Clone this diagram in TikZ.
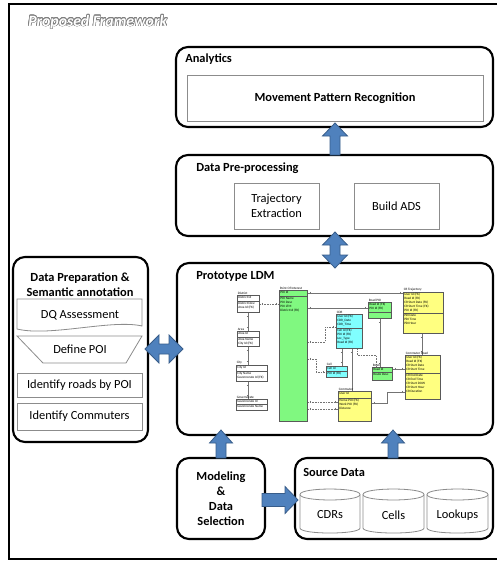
\documentclass[tikz,border=0pt]{standalone}
\usepackage{fontspec}
\setmainfont{Carlito}
\usepackage{contour}
\contourlength{0.4pt}
\usetikzlibrary{fit}
\definecolor{ablue}{HTML}{4F81BD}
\definecolor{aline}{HTML}{385D8A}
\definecolor{ergreen}{HTML}{80F880}
\definecolor{ercyan}{HTML}{80FFFF}
\definecolor{eryellow}{HTML}{FFFF80}
\definecolor{boxgray}{HTML}{8C8C8C}
\tikzset{
 group/.style={draw=black, line width=1.6pt, rounded corners=9pt, inner sep=0pt},
 innerbox/.style={draw=boxgray, line width=0.6pt, inner sep=0pt},
 ttl/.style={font=\fontsize{9.3}{11.25}\selectfont\bfseries, inner sep=0pt, align=center},
 lbl/.style={font=\fontsize{9.3}{11}\selectfont, inner sep=0pt, align=center},
 barrow/.style={fill=ablue, draw=aline, line width=0.6pt},
 ertext/.style={font=\fontsize{2.5}{3}\selectfont, inner sep=0pt, align=left},
 ertitle/.style={font=\fontsize{2.5}{3}\selectfont, inner sep=0.4pt},
 erline/.style={draw=black!55, line width=0.3pt},
 erdash/.style={erline, dash pattern=on 1.2pt off 0.8pt},
}
% ER table: x1,y1,x2,ysep,y2,colour,title,top fields,bottom fields
\newcommand\ertab[9]{%
 \fill[black!35] (#1+1.2,#2+1.2) rectangle (#3+1.2,#5+1.2);
 \filldraw[fill=#6, draw=black!65, line width=0.3pt] (#1,#2) rectangle (#3,#5);
 \draw[black!65, line width=0.3pt] (#1,#4) -- (#3,#4);
 \node[ertitle, anchor=south west] at (#1,#2) {#7};
 \node[ertext, anchor=north west] at (#1+1,#2+0.8) {#8};
 \node[ertext, anchor=north west] at (#1+1,#4+0.8) {#9};
}
% cylinder: x1,x2,ytop,ybottom,label,name
\newcommand\dbcyl[6]{%
 \draw[boxgray, line width=0.6pt, fill=white]
   (#1,#3+5.5) .. controls (#1,#3-1.8) and (#2,#3-1.8) .. (#2,#3+5.5)
   -- (#2,#4-5) .. controls (#2,#4+1.7) and (#1,#4+1.7) .. (#1,#4-5) -- cycle;
 \draw[boxgray, line width=0.6pt] (#1,#3+5.5) .. controls (#1,#3+12.8) and (#2,#3+12.8) .. (#2,#3+5.5);
 \node[lbl] (#6) at ({(#1+#2)/2},#4-18) {#5};
}
\begin{document}
\begin{tikzpicture}[x=0.75pt,y=-0.75pt]
\useasboundingbox (0,0) rectangle (497,561);
\fill[white] (0,0) rectangle (497,561);
% outer frame (right side outside the picture)
\draw[black, line width=1.4pt] (497,4) -- (9,4) -- (9,559) -- (497,559);
\node[anchor=west, inner sep=0pt, font=\fontsize{11.8}{13}\selectfont\bfseries\itshape] (frametitle) at (28,22)
  {\contour{black!50}{\textcolor{white}{Proposed Framework}}};

% ---- Analytics
\node[group, fit={(176,47) (493,127)}] (analytics) {};
\node[ttl, anchor=west] (antitle) at (185,59) {Analytics};
\node[innerbox, fit={(187,75) (483,121)}] (mprbox) {};
\node[ttl] (mpr) at (mprbox.center) {Movement Pattern Recognition};

% ---- Data pre-processing
\node[group, fit={(176,155) (493,236)}] (prep) {};
\node[ttl, anchor=west] (preptitle) at (196,168) {Data Pre-processing};
\node[innerbox, fit={(234,183) (319,229)}] (trajbox) {};
\node[lbl] (traj) at (trajbox.center) {Trajectory\\Extraction};
\node[innerbox, fit={(354,183) (439,229)}] (adsbox) {};
\node[lbl] (ads) at (adsbox.center) {Build ADS};

% ---- Prototype LDM
\node[group, fit={(177,263) (493,435)}] (ldm) {};
\node[ttl, anchor=west] (ldmtitle) at (196,276) {Prototype LDM};

% ---- Data preparation
\node[group, fit={(13,257) (148,442)}] (dprep) {};
\node[ttl] (dpreptitle) at (80,285) {Data Preparation \&\\Semantic annotation};
\draw[boxgray, line width=0.6pt] (17,299) -- (142,299) -- (142,326)
   .. controls (112,319) and (50,337) .. (17,329) -- cycle;
\node[lbl] (dq) at (80,315) {DQ Assessment};
\draw[boxgray, line width=0.6pt] (17,336) -- (142,336) -- (126,363) -- (43,363) -- cycle;
\node[lbl] (poi) at (80,349) {Define POI};
\node[innerbox, fit={(17,373) (142,397)}] (roadsbox) {};
\node[lbl] (roads) at (roadsbox.center) {Identify roads by POI};
\node[innerbox, fit={(17,403) (142,430)}] (commbox) {};
\node[lbl] (comm) at (commbox.center) {Identify Commuters};

% ---- Modeling
\node[group, fit={(177,458) (265,539)}] (model) {};
\node[ttl] (modeltxt) at (model.center) {Modeling\\\&\\Data\\Selection};

% ---- Source data
\node[group, fit={(295,458) (493,539)}] (source) {};
\node[ttl, anchor=west] (sourcetitle) at (303,472) {Source Data};
\dbcyl{300}{360}{489}{533}{CDRs}{cdrs}
\dbcyl{363}{424}{489}{533}{Cells}{cells}
\dbcyl{427}{488}{489}{533}{Lookups}{lookups}

% ---- block arrows
\filldraw[barrow] (330,155) -- (330,136) -- (322.5,136) -- (335,123) -- (347.5,136) -- (340,136) -- (340,155) -- cycle;
\filldraw[barrow] (335,232) -- (347.5,245) -- (340,245) -- (340,255) -- (347.5,255) -- (335,268)
   -- (322.5,255) -- (330,255) -- (330,245) -- (322.5,245) -- cycle;
\filldraw[barrow] (145,349) -- (159,335) -- (159,344) -- (169,344) -- (169,335) -- (183,349)
   -- (169,363) -- (169,354) -- (159,354) -- (159,363) -- cycle;
\filldraw[barrow] (216,458) -- (216,443) -- (209.5,443) -- (221,430) -- (232.5,443) -- (226,443) -- (226,458) -- cycle;
\filldraw[barrow] (388,458) -- (388,443) -- (381.5,443) -- (393,430) -- (404.5,443) -- (398,443) -- (398,458) -- cycle;
\filldraw[barrow] (262,493.5) -- (285,493.5) -- (285,486.5) -- (298,500) -- (285,513.5) -- (285,506.5) -- (262,506.5) -- cycle;

% ---- ER diagram (logical data model)
% connectors
\draw[erdash] (259,304) -- (279,304);
\draw[erline] (248,312) -- (248,331);
\draw[erline] (248,346) -- (248,365);
\draw[erline] (248,381) -- (248,399);
\draw[erline] (307,293) -- (403,293);
\draw[erline] (307,308) -- (368,308);
\draw[erdash] (307,342) -- (325,342) -- (325,327) -- (336,327);
\draw[erdash] (307,359) -- (316,359) -- (316,372) -- (326,372);
\draw[erdash] (307,402) -- (338,402);
\draw[erdash] (307,409) -- (338,409);
\draw[erline] (342,348) -- (342,366);
\draw[erline] (352,348) -- (352,391);
\draw[erdash] (357,348) -- (357,355) -- (376,355) -- (376,367);
\draw[erline] (380,318) -- (380,367);
\draw[erline] (392,369) -- (405,369);
\draw[erline] (422,333) -- (422,355);
\draw[erline] (371,403) -- (387,403) -- (387,392) -- (405,392);
% ticks
\foreach \p in {(248,316),(248,327),(248,350),(248,361),(248,385),(248,395),(342,352),(342,362),(352,352),(422,337),(422,351),(380,322),(380,363)}
  \draw[erline] \p ++(-1.2,0) -- ++(2.4,0);
\foreach \p in {(262,304),(276,304),(310,293),(400,293),(310,308),(365,308),(310,342),(333,327),(310,359),(323,372),(310,402),(335,402),(310,409),(335,409),(395,369),(402,369),(374,403),(402,392)}
  \draw[erline] \p ++(0,-1.2) -- ++(0,2.4);
% tables
\ertab{237}{295}{259}{301}{312}{white}{District}{District Id}{District Desc\\Area Id (FK)}
\ertab{237}{331}{259}{337}{346}{white}{Area}{Area Id}{Area Name\\City Id (FK)}
\ertab{236}{365}{267}{371}{381}{white}{City}{City Id}{City Name\\Governorate Id (FK)}
\ertab{236}{399}{267}{404}{410}{white}{Governorate}{Governorate Id}{Governorate Name}
\ertab{279}{290}{307}{296}{421}{ergreen}{Point Of Interest}{POI Id}{POI Name\\POI Desc\\POI LTM\\District Id (FK)}
\ertab{336}{314}{362}{328}{348}{ercyan}{CDR}{User Id (FK)\\CDR\_Date\\CDR\_Time}{Cell Id (FK)\\POI Id (FK)\\Loc\_Type\\Road Id (FK)}
\ertab{326}{366}{347}{371}{377}{ercyan}{Cell}{Cell Id}{POI Id (FK)}
\ertab{368}{302}{391}{312}{318}{ergreen}{Road POI}{Road Id (FK)\\POI Id (FK)}{}
\ertab{372}{367}{392}{372}{380}{ergreen}{Road}{Road Id}{Route Desc}
\ertab{403}{292}{443}{313}{333}{eryellow}{CR Trajectory}{User Id (FK)\\Road Id (FK)\\CR Start Date (FK)\\CR Start Time (FK)\\POI Id (FK)}{PDI Date\\PDI Time\\PDI Hour}
\ertab{405}{355}{440}{373}{399}{eryellow}{Commuter Road}{User Id (FK)\\Road Id (FK)\\CR Start Date\\CR Start Time}{CR End Date\\CR End Time\\CR Start DOW\\CR Start Hour\\CR Duration}
\ertab{338}{391}{371}{398}{421}{eryellow}{Commuter}{User Id}{Home POI (FK)\\Work POI (FK)\\Distance}
\end{tikzpicture}
\end{document}
